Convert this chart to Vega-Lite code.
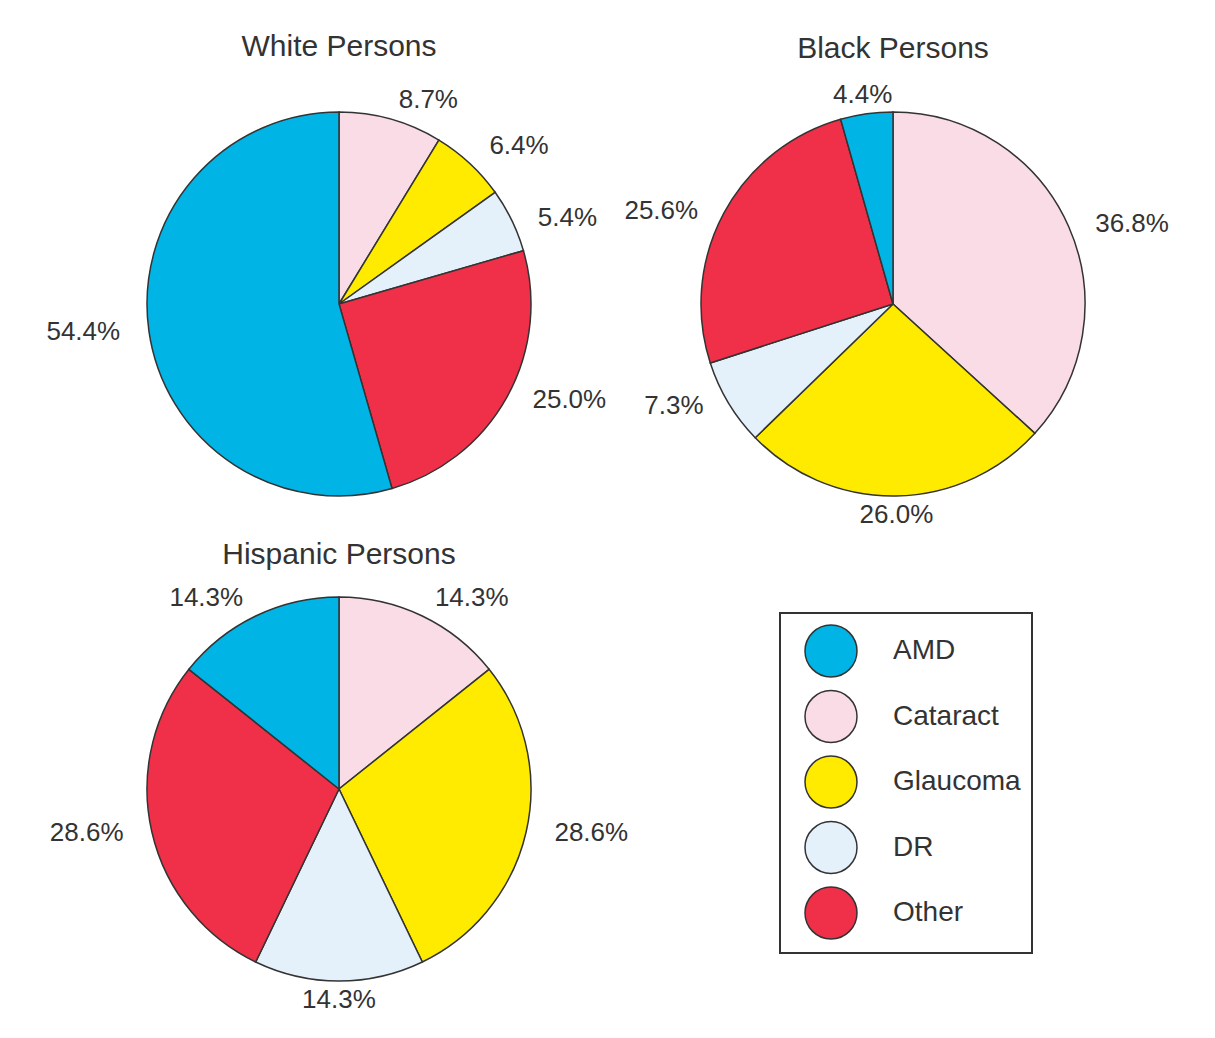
{
  "$schema": "https://vega.github.io/schema/vega-lite/v6.json",
  "padding": {"left": 46, "top": 32, "right": 5, "bottom": 5},
  "background": "white",
  "bounds": "flush",
  "datasets": {
    "pies": [
      {"group": "White Persons", "cause": "Cataract", "seq": 1, "value": 8.7, "label": "8.7%"},
      {"group": "White Persons", "cause": "Glaucoma", "seq": 2, "value": 6.4, "label": "6.4%"},
      {"group": "White Persons", "cause": "DR", "seq": 3, "value": 5.4, "label": "5.4%"},
      {"group": "White Persons", "cause": "Other", "seq": 4, "value": 25.0, "label": "25.0%"},
      {"group": "White Persons", "cause": "AMD", "seq": 5, "value": 54.4, "label": "54.4%"},
      {"group": "Black Persons", "cause": "Cataract", "seq": 1, "value": 36.8, "label": "36.8%"},
      {"group": "Black Persons", "cause": "Glaucoma", "seq": 2, "value": 26.0, "label": "26.0%"},
      {"group": "Black Persons", "cause": "DR", "seq": 3, "value": 7.3, "label": "7.3%"},
      {"group": "Black Persons", "cause": "Other", "seq": 4, "value": 25.6, "label": "25.6%"},
      {"group": "Black Persons", "cause": "AMD", "seq": 5, "value": 4.4, "label": "4.4%"},
      {"group": "Hispanic Persons", "cause": "Cataract", "seq": 1, "value": 14.3, "label": "14.3%"},
      {"group": "Hispanic Persons", "cause": "Glaucoma", "seq": 2, "value": 28.6, "label": "28.6%"},
      {"group": "Hispanic Persons", "cause": "DR", "seq": 3, "value": 14.3, "label": "14.3%"},
      {"group": "Hispanic Persons", "cause": "Other", "seq": 4, "value": 28.6, "label": "28.6%"},
      {"group": "Hispanic Persons", "cause": "AMD", "seq": 5, "value": 14.3, "label": "14.3%"}
    ]
  },
  "data": {"name": "pies"},
  "columns": 2,
  "spacing": {"row": 45, "column": 0},
  "align": "each",
  "concat": [
    {
      "title": {"text": "White Persons", "offset": 22, "frame": "group"},
      "width": 572,
      "height": 440,
      "transform": [{"filter": "datum.group === 'White Persons'"}],
      "encoding": {
        "theta": {"field": "value", "type": "quantitative", "stack": true},
        "order": {"field": "seq", "type": "ordinal"}
      },
      "layer": [
        {
          "mark": {"type": "arc", "outerRadius": 192, "stroke": "#333", "strokeWidth": 1.5},
          "encoding": {"color": {"field": "cause", "type": "nominal"}}
        },
        {
          "mark": {
            "type": "text", "radius": 208, "fontSize": 26, "font": "Liberation Sans", "fill": "#333",
            "dx": {"expr": "13 * sin((datum.value_start + datum.value_end) * PI / 100)"},
            "dy": {"expr": "10 * cos((datum.value_start + datum.value_end) * PI / 100)"},
            "align": {"expr": "sin((datum.value_start + datum.value_end) * PI / 100) > 0.2 ? 'left' : sin((datum.value_start + datum.value_end) * PI / 100) < -0.2 ? 'right' : 'center'"},
            "baseline": {"expr": "cos((datum.value_start + datum.value_end) * PI / 100) > 0.55 ? 'bottom' : cos((datum.value_start + datum.value_end) * PI / 100) < -0.55 ? 'top' : 'middle'"}
          },
          "encoding": {"text": {"field": "label", "type": "nominal"}, "detail": {"field": "cause", "type": "nominal"}}
        }
      ]
    },
    {
      "title": {"text": "Black Persons", "offset": 18, "frame": "group"},
      "width": 536,
      "height": 440,
      "transform": [{"filter": "datum.group === 'Black Persons'"}],
      "encoding": {
        "theta": {"field": "value", "type": "quantitative", "stack": true},
        "order": {"field": "seq", "type": "ordinal"}
      },
      "layer": [
        {
          "mark": {"type": "arc", "outerRadius": 192, "stroke": "#333", "strokeWidth": 1.5},
          "encoding": {"color": {"field": "cause", "type": "nominal"}}
        },
        {
          "mark": {
            "type": "text", "radius": 208, "fontSize": 26, "font": "Liberation Sans", "fill": "#333",
            "dx": {"expr": "13 * sin((datum.value_start + datum.value_end) * PI / 100)"},
            "dy": {"expr": "10 * cos((datum.value_start + datum.value_end) * PI / 100)"},
            "align": {"expr": "sin((datum.value_start + datum.value_end) * PI / 100) > 0.2 ? 'left' : sin((datum.value_start + datum.value_end) * PI / 100) < -0.2 ? 'right' : 'center'"},
            "baseline": {"expr": "cos((datum.value_start + datum.value_end) * PI / 100) > 0.55 ? 'bottom' : cos((datum.value_start + datum.value_end) * PI / 100) < -0.55 ? 'top' : 'middle'"}
          },
          "encoding": {"text": {"field": "label", "type": "nominal"}, "detail": {"field": "cause", "type": "nominal"}}
        }
      ]
    },
    {
      "title": {"text": "Hispanic Persons", "offset": -1, "frame": "group"},
      "width": 572,
      "height": 440,
      "transform": [{"filter": "datum.group === 'Hispanic Persons'"}],
      "encoding": {
        "theta": {"field": "value", "type": "quantitative", "stack": true},
        "order": {"field": "seq", "type": "ordinal"}
      },
      "layer": [
        {
          "mark": {"type": "arc", "outerRadius": 192, "stroke": "#333", "strokeWidth": 1.5},
          "encoding": {
            "color": {
              "field": "cause",
              "type": "nominal",
              "scale": {
                "domain": ["AMD", "Cataract", "Glaucoma", "DR", "Other"],
                "range": ["#00B4E6", "#FADCE6", "#FFEB00", "#E4F1FA", "#F03048"]
              },
              "legend": {
                "title": null,
                "orient": "none",
                "legendX": 727,
                "legendY": 529
              }
            }
          }
        },
        {
          "mark": {
            "type": "text", "radius": 208, "fontSize": 26, "font": "Liberation Sans", "fill": "#333",
            "dx": {"expr": "13 * sin((datum.value_start + datum.value_end) * PI / 100)"},
            "dy": {"expr": "10 * cos((datum.value_start + datum.value_end) * PI / 100)"},
            "align": {"expr": "sin((datum.value_start + datum.value_end) * PI / 100) > 0.2 ? 'left' : sin((datum.value_start + datum.value_end) * PI / 100) < -0.2 ? 'right' : 'center'"},
            "baseline": {"expr": "cos((datum.value_start + datum.value_end) * PI / 100) > 0.55 ? 'bottom' : cos((datum.value_start + datum.value_end) * PI / 100) < -0.55 ? 'top' : 'middle'"}
          },
          "encoding": {"text": {"field": "label", "type": "nominal"}, "detail": {"field": "cause", "type": "nominal"}}
        }
      ]
    }
  ],
  "resolve": {"scale": {"color": "shared", "theta": "independent"}},
  "config": {
    "view": {"stroke": null},
    "title": {"fontSize": 30, "fontWeight": "normal", "font": "Liberation Sans", "color": "#333", "anchor": "middle", "baseline": "bottom"},
    "legend": {
      "symbolType": "circle",
      "symbolSize": 2704,
      "symbolStrokeColor": "#333",
      "symbolStrokeWidth": 1.5,
      "symbolOpacity": 1,
      "symbolOffset": 13,
      "labelFont": "Liberation Sans",
      "labelFontSize": 28,
      "labelColor": "#333",
      "labelOffset": 35,
      "rowPadding": 7.5,
      "padding": 11,
      "strokeColor": "#333",
      "strokeWidth": 2
    }
  }
}
